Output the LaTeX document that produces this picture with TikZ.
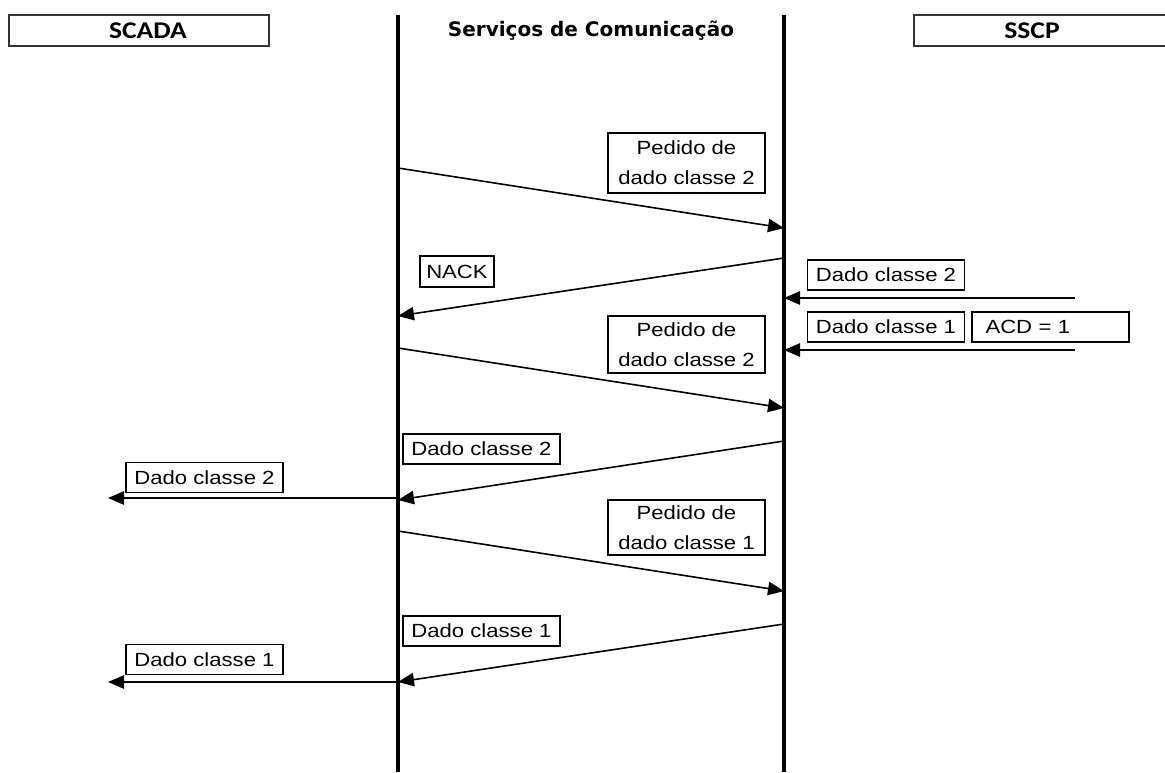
\documentclass[tikz,border=0pt]{standalone}
\usepackage{fontspec}
\usetikzlibrary{arrows.meta}
\newfontfamily\lblfont[FakeStretch=1.16]{Liberation Sans}
\newfontfamily\hdrfont[FakeStretch=1.15]{Carlito}
\newfontfamily\ttlfont{DejaVu Sans}
\tikzset{
 lifeline/.style={line width=3pt},
 msg/.style={line width=1.2pt,-{Triangle[length=12pt,width=10pt]}},
 msgbox/.style={draw,line width=1pt,inner sep=0pt,minimum width=117.75pt,minimum height=22.5pt,
   align=center,font=\lblfont\fontsize{14.3}{22.5}\selectfont},
 hdrbox/.style={draw=black!80,line width=1.8pt},
 hdrtext/.style={font=\hdrfont\bfseries\fontsize{18}{20}\selectfont},
}
\begin{document}
\begin{tikzpicture}[x=0.75pt,y=-0.75pt]
 \useasboundingbox (0,0) rectangle (1165,772);
 \begin{scope}
  \clip (0,0) rectangle (1165,772);
  \draw[hdrbox] (9,15) rectangle (269,46);
  \draw[hdrbox] (914,15) rectangle (1180,46);
 \end{scope}
 \node[hdrtext] (scada) at (148,30.5) {SCADA};
 \node[hdrtext] (sscp) at (1032,30.5) {SSCP};
 \node[font=\ttlfont\bfseries\fontsize{15}{16}\selectfont] (servicos) at (591,31) {Serviços de Comunicação};
 \coordinate (l0) at (398,15); \coordinate (l1) at (398,772);
 \coordinate (r0) at (784,15); \coordinate (r1) at (784,772);
 \draw[lifeline] (l0) -- (l1);
 \draw[lifeline] (r0) -- (r1);
 \foreach \a/\ya/\b/\yb [count=\i] in {398/168/784/228, 784/258/398/316, 1075/298/784/298,
   1075/350/784/350, 398/348/784/408, 784/441/398/500, 398/498/108/498,
   398/531/784/591, 784/624/398/682, 398/682/108/682}{
  \coordinate (m\i s) at (\a,\ya);
  \coordinate (m\i e) at (\b,\yb);
  \draw[msg] (m\i s) -- (m\i e);
 }
 \node[msgbox,minimum height=45pt] (ped1) at (686.5,163) {Pedido de\\dado classe 2};
 \node[msgbox,minimum width=55.5pt,minimum height=23.25pt] (nack) at (457,271.5) {NACK};
 \node[msgbox] (sscp d2) at (886,275) {Dado classe 2};
 \node[msgbox] (sscp d1) at (886,327) {Dado classe 1};
 \node[msgbox,align=left,text width=97.5pt,inner xsep=10pt] (acd) at (1050.5,327) {ACD = 1};
 \node[msgbox,minimum height=42.75pt] (ped2) at (686.5,344.5) {Pedido de\\dado classe 2};
 \node[msgbox] (com d2) at (481.5,449) {Dado classe 2};
 \node[msgbox] (scada d2) at (204.5,477.5) {Dado classe 2};
 \node[msgbox,minimum height=41.25pt] (ped3) at (686.5,527.5) {Pedido de\\dado classe 1};
 \node[msgbox] (com d1) at (481.5,631) {Dado classe 1};
 \node[msgbox] (scada d1) at (204.5,659.5) {Dado classe 1};
\end{tikzpicture}
\end{document}
